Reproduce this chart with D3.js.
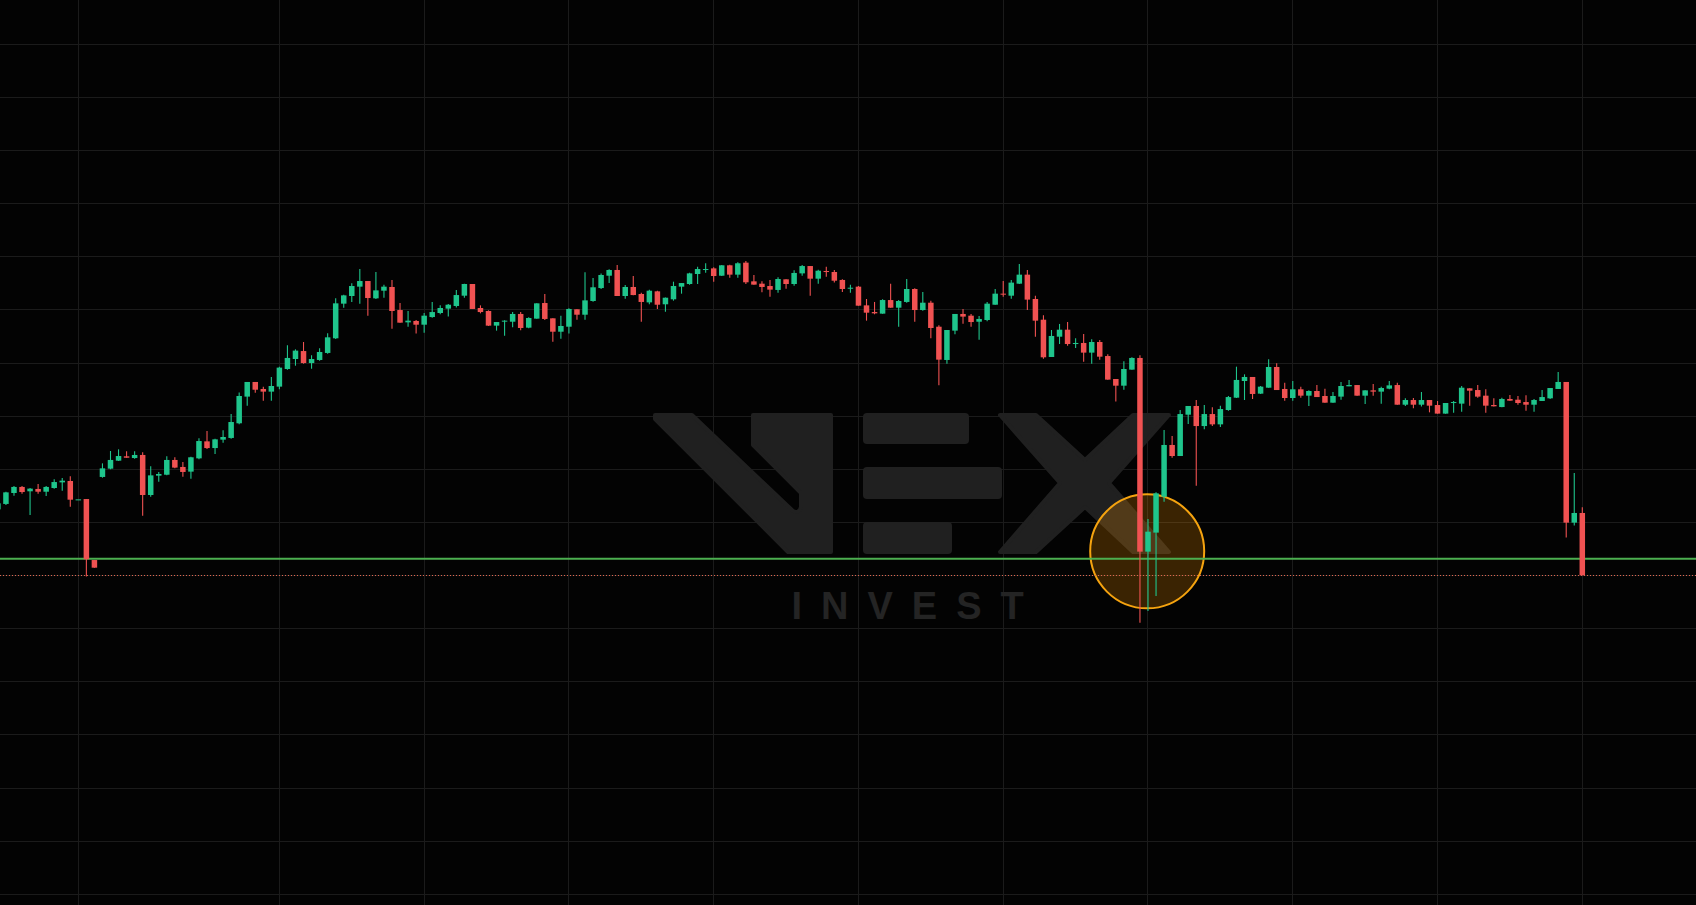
<!DOCTYPE html>
<html>
<head>
<meta charset="utf-8">
<script src="https://cdn.jsdelivr.net/npm/d3@7"></script>
<style>
html,body{margin:0;padding:0;background:#030303;overflow:hidden}
svg{display:block}
</style>
</head>
<body>
<svg id="chart" width="1696" height="905"></svg>
<script>
// ---------------- DATA ----------------
const opens = [106.23,106.74,107.77,108.34,107.93,108.15,107.89,108.24,108.77,108.90,107.17,107.20,101.46,109.28,110.06,110.81,111.22,111.06,111.35,107.58,
109.40,109.49,110.88,110.22,109.78,111.03,112.63,112.00,112.79,112.95,114.33,116.84,118.22,117.56,117.31,117.78,119.44,120.38,121.13,120.00,
120.29,120.95,122.33,125.59,126.31,127.19,127.72,126.09,126.81,127.16,124.99,123.83,123.96,123.61,124.33,124.71,125.12,125.37,126.34,127.44,
125.18,124.90,123.52,123.93,123.89,124.62,123.33,124.18,125.65,124.21,122.95,123.42,125.06,124.55,125.84,127.06,128.22,128.76,126.31,127.16,
126.50,125.71,126.75,125.53,126.00,127.19,127.44,128.38,128.76,128.91,128.22,129.20,128.32,129.45,127.69,127.47,127.25,126.88,127.88,127.44,
128.44,129.13,127.94,128.66,128.57,127.82,127.00,127.19,125.43,124.80,124.65,125.93,125.21,125.75,126.97,124.99,125.68,123.42,120.29,123.05,
124.62,124.46,123.89,124.05,125.49,126.53,126.34,127.47,128.32,126.03,124.08,120.57,122.48,123.14,121.79,121.89,120.98,121.98,120.66,118.50,
117.87,119.38,120.48,102.25,104.04,107.42,112.29,111.25,115.14,115.96,114.07,115.20,114.23,115.58,116.74,118.31,118.69,117.12,117.68,119.63,
117.56,116.71,117.53,116.93,117.37,116.90,116.27,116.84,117.81,117.93,116.93,117.43,117.31,117.59,117.93,116.08,116.52,116.08,116.52,116.05,
115.24,116.27,116.18,117.62,117.46,116.93,116.05,115.86,116.62,116.55,116.33,116.08,116.43,116.68,117.56,118.22,104.98,105.89];

const highs = [106.95,107.89,108.43,108.43,108.24,108.62,108.43,109.06,109.18,109.34,107.17,107.20,101.46,110.56,111.72,111.88,111.69,111.69,111.60,110.28,
109.75,111.22,111.13,110.69,111.19,112.92,113.60,112.88,113.67,115.20,117.24,118.22,118.22,117.78,118.69,119.66,121.67,121.29,121.98,120.73,
121.39,122.80,126.09,126.44,127.50,128.85,127.72,128.57,127.38,127.82,125.65,124.90,124.05,124.71,125.75,125.43,125.56,126.88,127.47,127.44,
125.43,124.96,123.86,124.02,124.80,124.80,124.30,125.62,126.50,124.21,124.46,125.15,125.06,128.54,128.00,128.44,128.82,129.23,127.35,128.19,
126.62,126.91,126.81,126.18,127.66,127.53,128.51,129.07,129.39,129.01,129.23,129.26,129.48,129.60,128.29,127.69,127.82,128.07,127.88,128.73,
129.23,129.13,128.79,129.07,128.76,127.88,127.38,127.25,126.03,125.75,126.00,127.47,125.93,127.91,127.03,126.69,125.87,123.55,123.11,124.62,
125.09,124.62,124.43,125.75,126.97,127.72,127.82,129.32,128.76,126.34,124.49,123.11,123.68,123.86,122.33,122.73,122.23,122.17,120.82,118.50,
120.16,120.54,120.73,105.32,107.83,113.70,113.13,115.58,115.96,116.52,116.05,115.83,115.99,116.90,119.66,118.94,118.69,117.84,120.35,119.97,
118.15,118.31,117.78,117.43,117.93,117.59,117.27,118.22,118.41,117.93,117.43,118.03,117.78,118.31,118.15,116.68,116.71,117.27,116.52,116.43,
116.24,116.43,117.84,117.62,117.93,117.53,116.68,116.74,116.99,116.90,116.96,116.62,117.46,117.65,119.16,118.22,109.65,106.42];

const lows = [106.01,106.64,107.52,107.71,105.70,107.71,107.49,108.18,107.99,106.48,107.17,99.90,100.74,109.21,110.00,110.78,111.09,111.00,105.64,107.42,
108.84,109.43,110.09,109.31,109.12,110.94,111.91,111.44,112.51,112.88,114.23,115.99,117.21,116.46,116.46,117.53,119.38,119.75,119.94,119.47,
120.22,120.88,122.26,125.21,125.75,125.59,124.46,126.03,126.15,123.24,123.80,123.42,122.77,122.86,124.27,124.59,124.37,125.24,126.15,125.09,
124.68,123.49,123.05,122.58,123.36,123.08,123.27,124.18,124.05,122.01,122.29,122.77,124.08,124.08,125.78,126.97,127.53,126.31,126.06,126.37,
123.89,125.53,125.09,124.84,125.87,126.53,127.38,127.44,128.51,127.66,128.19,128.04,128.04,127.44,127.38,126.66,126.25,126.62,127.00,127.28,
128.22,126.34,127.47,128.13,127.57,126.69,126.62,125.40,123.99,124.59,124.65,125.21,123.42,125.68,123.89,124.93,122.33,117.90,119.94,122.70,
123.71,123.42,122.20,123.93,125.49,126.25,126.06,127.44,124.99,122.48,120.41,120.57,121.79,121.64,121.42,120.13,119.94,120.32,118.44,116.37,
117.49,119.38,95.56,96.66,98.08,106.95,111.09,111.25,114.26,108.46,113.76,114.07,113.98,115.52,116.71,116.52,116.62,117.09,117.68,117.46,
116.46,116.46,116.74,115.96,116.80,116.27,116.27,116.55,117.81,116.93,116.15,116.93,116.18,117.53,116.08,115.96,115.74,115.90,115.36,115.24,
115.24,115.33,115.42,115.99,116.74,115.33,115.90,115.83,116.46,116.08,115.52,115.42,116.43,116.62,117.56,103.57,104.70,100.02];

const closes = [106.80,107.83,108.34,107.86,108.18,107.89,108.34,108.80,108.93,107.14,107.17,101.53,100.74,110.09,110.88,111.25,111.09,111.35,107.58,109.43,
109.56,110.88,110.16,109.75,111.13,112.66,112.00,112.82,113.04,114.45,116.90,118.22,117.49,117.31,117.84,119.57,120.48,121.17,120.00,120.38,
121.04,122.42,125.62,126.37,127.25,127.72,126.12,126.84,127.19,124.90,123.80,123.99,123.61,124.46,124.80,125.18,125.49,126.40,127.44,125.09,
124.80,123.52,123.86,123.99,124.62,123.30,124.24,125.62,124.15,122.95,123.49,125.09,124.55,125.90,127.13,128.29,128.76,126.31,127.16,126.40,
125.75,126.81,125.49,126.15,127.25,127.53,128.44,128.85,128.85,128.19,129.20,128.32,129.39,127.60,127.38,127.16,126.91,127.91,127.44,128.48,
129.13,127.94,128.69,128.60,127.75,126.97,127.09,125.40,124.74,124.68,125.93,125.21,125.84,126.97,124.99,125.68,123.30,120.32,123.11,124.62,
124.37,123.86,124.15,125.59,126.53,126.47,127.57,128.32,125.97,123.99,120.54,122.55,123.14,121.79,121.89,120.98,121.98,120.60,118.44,117.87,
119.44,120.48,102.25,104.13,107.74,112.29,111.25,115.20,115.96,114.07,115.20,114.23,115.67,116.80,118.41,118.69,117.09,117.78,119.63,117.46,
116.71,117.53,116.93,117.37,116.80,116.27,116.90,117.84,117.93,116.93,117.43,117.31,117.65,117.90,116.08,116.52,116.08,116.52,115.99,115.24,
116.24,116.33,117.68,117.40,116.84,115.99,115.93,116.62,116.46,116.24,116.08,116.52,116.80,117.65,118.22,104.98,105.89,100.02];

const gridPrices = [70,75,80,85,90,95,100,105,110,115,120,125,130,135,140,145,150];
const gridBars = [10,35,53,71,89,107,125,143,161,179,197];
const supportLevel = 101.59;
const highlightBar = 142.9;
const highlightPrice = 102.28;
const watermarkWord = "INVEST";

// ---------------- STYLE ----------------
const W = 1696, H = 905;
const UP = "#1fc58c", DOWN = "#f05252";
const GRID = "#1b1b1b";
const LOGO = "#202020";

const svg = d3.select("#chart");
svg.append("rect").attr("width", W).attr("height", H).attr("fill", "#030303");

const x = d3.scaleLinear().domain([0, opens.length - 1]).range([-2.1, 1582.3]);
const y = d3.scaleLinear().domain([70, 150]).range([894.3, 44.3]);
const crisp = v => Math.round(v - 0.5) + 0.5;

// grid
const grid = svg.append("g");
grid.selectAll("line.h").data(gridPrices).join("line")
  .attr("x1", 0).attr("x2", W)
  .attr("y1", d => crisp(y(d))).attr("y2", d => crisp(y(d)))
  .attr("stroke", GRID).attr("stroke-width", 1);
grid.selectAll("line.v").data(gridBars).join("line")
  .attr("y1", 0).attr("y2", H)
  .attr("x1", d => crisp(x(d))).attr("x2", d => crisp(x(d)))
  .attr("stroke", GRID).attr("stroke-width", 1);

// watermark (logo decoration)
const wm = svg.append("g").attr("fill", LOGO).attr("stroke", LOGO)
  .attr("stroke-width", 4).attr("stroke-linejoin", "round");
wm.append("path").attr("d",
  "M655,415 L692,415 L793,511 Q799,514 801,507 L801,493 L753,445 L753,415 L831,415 L831,552 L788,552 L655,419 Z");
wm.append("rect").attr("x", 863).attr("y", 413).attr("width", 106).attr("height", 31).attr("rx", 4).attr("stroke", "none");
wm.append("rect").attr("x", 863).attr("y", 467).attr("width", 139).attr("height", 32).attr("rx", 4).attr("stroke", "none");
wm.append("rect").attr("x", 863).attr("y", 522).attr("width", 89).attr("height", 32).attr("rx", 4).attr("stroke", "none");
wm.append("path").attr("d",
  "M1000,415 L1036,415 L1085,460 L1133,415 L1169,415 L1109,483 L1169,552 L1133,552 L1085,507 L1036,552 L1000,552 L1060,483 Z");
svg.append("text")
  .attr("x", 791.5).attr("y", 619.3)
  .attr("font-family", "Liberation Sans, Arial, sans-serif")
  .attr("font-size", 38).attr("font-weight", "bold").attr("letter-spacing", 19)
  .attr("fill", "#242424")
  .text(watermarkWord);

// highlight circle
svg.append("circle")
  .attr("cx", x(highlightBar)).attr("cy", y(highlightPrice)).attr("r", 57)
  .attr("fill", "rgba(255,152,0,0.22)")
  .attr("stroke", "#f5a30f").attr("stroke-width", 2);

// support line and last-price dotted line
svg.append("line")
  .attr("x1", 0).attr("x2", W)
  .attr("y1", y(supportLevel)).attr("y2", y(supportLevel))
  .attr("stroke", "#4caf50").attr("stroke-width", 2);
const lastClose = closes[closes.length - 1];
svg.append("line")
  .attr("x1", 0).attr("x2", W)
  .attr("y1", crisp(y(lastClose))).attr("y2", crisp(y(lastClose)))
  .attr("stroke", "#e0664f").attr("stroke-width", 1)
  .attr("stroke-dasharray", "1 2");

// candles
const idx = d3.range(opens.length);
const color = i => closes[i] >= opens[i] ? UP : DOWN;
const candles = svg.append("g");
candles.selectAll("line.wick").data(idx).join("line")
  .attr("x1", i => x(i)).attr("x2", i => x(i))
  .attr("y1", i => y(highs[i])).attr("y2", i => y(lows[i]))
  .attr("stroke", color).attr("stroke-width", 1.1);
const bw = 5.5;
candles.selectAll("rect.body").data(idx).join("rect")
  .attr("x", i => x(i) - bw / 2)
  .attr("width", bw)
  .attr("y", i => y(Math.max(opens[i], closes[i])))
  .attr("height", i => Math.max(1, Math.abs(y(opens[i]) - y(closes[i]))))
  .attr("fill", color);
</script>
</body>
</html>
